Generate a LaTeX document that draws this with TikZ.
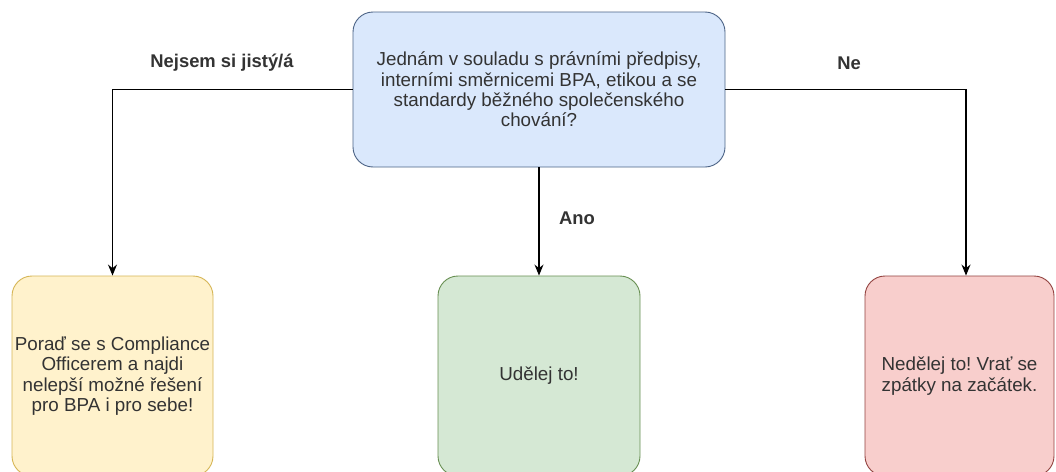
\documentclass[tikz,border=0pt]{standalone}
\usepackage{fontspec}
\setmainfont{Liberation Sans}
\frenchspacing
\usetikzlibrary{arrows.meta}
\definecolor{bfill}{HTML}{DAE8FC}\definecolor{bdraw}{HTML}{6C8EBF}
\definecolor{yfill}{HTML}{FFF2CC}\definecolor{ydraw}{HTML}{D6B656}
\definecolor{gfill}{HTML}{D5E8D4}\definecolor{gdraw}{HTML}{82B366}
\definecolor{rfill}{HTML}{F8CECC}\definecolor{rdraw}{HTML}{B85450}
\definecolor{txt}{HTML}{333333}
\tikzset{
  box/.style={draw, line width=0.9pt, rounded corners=20pt, align=center, text=txt,
    font=\fontsize{18.8}{20.3}\selectfont, inner sep=0pt},
  lbl/.style={font=\fontsize{18.4}{20}\selectfont\bfseries, text=txt, inner sep=0pt},
  conn/.style={draw=black, line width=1.2pt, -{Stealth[length=11pt,width=9pt]}},
}
\begin{document}
\begin{tikzpicture}[x=1pt,y=-1pt]
\useasboundingbox (0,0) rectangle (1056,471);
\clip (0,0) rectangle (1056,471);
\fill[white] (0,0) rectangle (1056,471);
\node[box, fill=bfill, draw=bdraw!70!black, minimum width=372pt, minimum height=155pt] (q) at (539,89.5)
  {Jednám v souladu s právními předpisy,\\interními směrnicemi BPA, etikou a se\\standardy běžného společenského\\chování?};
\node[box, fill=yfill, draw=ydraw, minimum width=201pt, minimum height=200pt] (y) at (112.5,376)
  {Poraď se s Compliance\\Officerem a najdi\\nelepší možné řešení\\pro BPA i pro sebe!};
\node[box, fill=gfill, draw=gdraw!80!black, minimum width=202pt, minimum height=200pt] (g) at (539,376)
  {Udělej to!};
\node[box, fill=rfill, draw=rdraw!80!black, minimum width=189pt, minimum height=200pt] (r) at (959.5,376)
  {Nedělej to! Vrať se\\zpátky na začátek.};
\draw[conn] (q.west) -| (y.north);
\draw[conn] (q.south) -- (g.north);
\draw[conn] (q.east) -| ([xshift=6.5pt]r.north);
\node[lbl] (l1) at (222,63) {Nejsem si jistý/á};
\node[lbl] (l2) at (849,63) {Ne};
\node[lbl] (l3) at (577,218) {Ano};
\end{tikzpicture}
\end{document}
